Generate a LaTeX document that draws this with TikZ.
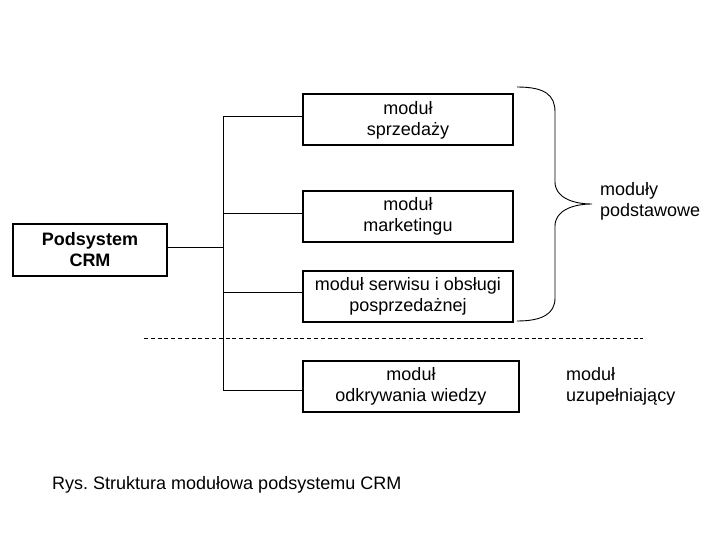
\documentclass[tikz,border=0pt]{standalone}
\usepackage{fontspec}
\setmainfont{Liberation Sans}
\begin{document}
\begin{tikzpicture}[x=1pt,y=-1pt,
  every node/.style={font=\fontsize{18}{21}\selectfont\frenchspacing},
  box/.style={draw,line width=2pt,align=center,inner sep=0pt,minimum height=51pt},
  modbox/.style={box,execute at begin node={\rule{0pt}{18.5pt}}},
  conn/.style={line width=0.9pt},
  lbl/.style={align=left,anchor=north west,inner sep=0pt}]
\useasboundingbox (0,0) rectangle (720,540);
\node[box,minimum width=154pt,font=\fontsize{18}{21}\selectfont\bfseries] (crm) at (90,250) {Podsystem\\CRM};
\node[modbox,minimum width=210pt] (sprz) at (408,120) {moduł\\sprzedaży};
\node[modbox,minimum width=210pt] (mark) at (408,216.5) {moduł\\marketingu};
\node[modbox,minimum width=210pt] (serw) at (408,296) {moduł serwisu i obsługi\\posprzedażnej};
\node[modbox,minimum width=216pt] (odkr) at (411,386.5) {moduł\\odkrywania wiedzy};
\coordinate (bt) at (223,116);
\coordinate (bb) at (223,390);
\coordinate (mc) at ([yshift=3.5pt]mark.west);
\coordinate (sc) at ([yshift=4pt]serw.west);
\coordinate (cc) at ([yshift=3pt]crm.east);
\draw[conn] (sprz.west |- bt) -- (bt) -- (bb) -- (odkr.west |- bb);
\draw[conn] (mc) -- (bt |- mc);
\draw[conn] (sc) -- (bt |- sc);
\draw[conn] (cc) -- (bt |- cc);
\coordinate (dl) at (144,338);
\coordinate (dr) at (643,338);
\draw[conn,dash pattern=on 4pt off 2.8pt] (dl) -- (dr);
\coordinate (btop) at (517,87);
\coordinate (btip) at (592,204);
\coordinate (bbot) at (517,321);
\draw[conn] (btop) .. controls (545,87) and (555,95) .. (555,112) -- (555,182)
  .. controls (555,197) and (572,204) .. (btip)
  .. controls (572,204) and (555,211) .. (555,226) -- (555,298)
  .. controls (555,314) and (542,321) .. (bbot);
\node[lbl] (podst) at (600,182) {moduły\\podstawowe};
\node[lbl] (uzup) at (566,367) {moduł\\uzupełniający};
\node[anchor=west,inner sep=0pt] (cap) at (52,485) {Rys. Struktura modułowa podsystemu CRM};
\end{tikzpicture}
\end{document}
